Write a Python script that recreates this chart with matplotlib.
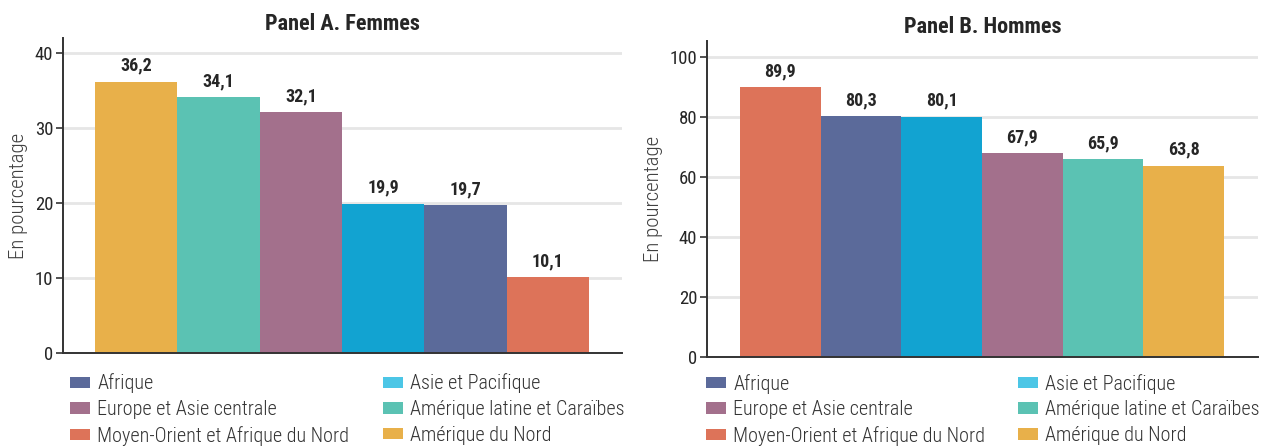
import matplotlib
matplotlib.use("Agg")
import matplotlib.pyplot as plt
from matplotlib.patches import Patch
from matplotlib.legend import Legend

plt.rcParams['font.family'] = ['Roboto Condensed', 'Liberation Sans Narrow', 'DejaVu Sans']
plt.rcParams['font.stretch'] = 'condensed'

# Data
regions_f = ["Amérique du Nord", "Amérique latine et Caraïbes", "Europe et Asie centrale",
             "Asie et Pacifique", "Afrique", "Moyen-Orient et Afrique du Nord"]
values_f = [36.2, 34.1, 32.1, 19.9, 19.7, 10.1]

regions_m = ["Moyen-Orient et Afrique du Nord", "Afrique", "Asie et Pacifique",
             "Europe et Asie centrale", "Amérique latine et Caraïbes", "Amérique du Nord"]
values_m = [89.9, 80.3, 80.1, 67.9, 65.9, 63.8]

legend_col1 = ["Afrique", "Europe et Asie centrale", "Moyen-Orient et Afrique du Nord"]
legend_col2 = ["Asie et Pacifique", "Amérique latine et Caraïbes", "Amérique du Nord"]

bar_colors = {
    "Afrique": "#5b6a9a",
    "Asie et Pacifique": "#12a3d1",
    "Europe et Asie centrale": "#a3708c",
    "Amérique latine et Caraïbes": "#5bc2b3",
    "Moyen-Orient et Afrique du Nord": "#dd7359",
    "Amérique du Nord": "#e8b04a",
}
legend_colors = dict(bar_colors)
legend_colors["Asie et Pacifique"] = "#4cc6e6"

TXT = "#262626"


def draw_panel(fig, rect, regions, values, title, ylim, yticks, xlim, leg_x, leg_y):
    ax = fig.add_axes(rect)
    x = list(range(len(values)))
    ax.bar(x, values, width=1.0, color=[bar_colors[r] for r in regions], zorder=2)
    for xi, v in zip(x, values):
        ax.annotate(f"{v:.1f}".replace(".", ","), (xi, v), xytext=(0, 5),
                    textcoords="offset points", ha="center", va="bottom",
                    fontsize=13, fontweight="bold", color=TXT)
    ax.set_xlim(*xlim)
    ax.set_ylim(*ylim)
    ax.set_yticks(yticks)
    ax.set_xticks([])
    ax.tick_params(axis="y", length=5, width=1.2, color="#333333",
                   labelsize=13.5, labelcolor=TXT, pad=2)
    ax.grid(axis="y", color="#e6e6e6", lw=2)
    ax.set_axisbelow(True)
    for s in ["top", "right"]:
        ax.spines[s].set_visible(False)
    for s in ["left", "bottom"]:
        ax.spines[s].set_color("#333333")
        ax.spines[s].set_linewidth(1.4)
    ax.set_title(title, fontsize=16, fontweight="bold", color=TXT, pad=6)
    ax.set_ylabel("En pourcentage", fontsize=15, fontweight="light",
                  color="#404040", labelpad=5)

    for labels, lx in zip([legend_col1, legend_col2], leg_x):
        handles = [Patch(facecolor=legend_colors[n], edgecolor="none") for n in labels]
        leg = Legend(ax, handles, labels, loc="upper left", bbox_to_anchor=(lx, leg_y),
                     frameon=False, handlelength=1.0, handleheight=0.5,
                     handletextpad=0.36, labelspacing=0.33, borderaxespad=0,
                     borderpad=0, prop={"size": 14.5, "weight": "light"})
        for t in leg.get_texts():
            t.set_color("#333333")
        ax.add_artist(leg)
    return ax


fig = plt.figure(figsize=(12.7, 4.46), dpi=100)

draw_panel(fig, [0.0496, 0.2085, 0.440, 0.7063], regions_f, values_f,
           "Panel A. Femmes", (0, 42), [0, 10, 20, 30, 40], (-0.889, 5.90),
           [0.0125, 0.572], -0.065)
draw_panel(fig, [0.5567, 0.1996, 0.4339, 0.7085], regions_m, values_m,
           "Panel B. Hommes", (0, 105.3), [0, 20, 40, 60, 80, 100], (-0.909, 5.92),
           [-0.002, 0.564], -0.053)

fig.savefig("out.png", dpi=100)
